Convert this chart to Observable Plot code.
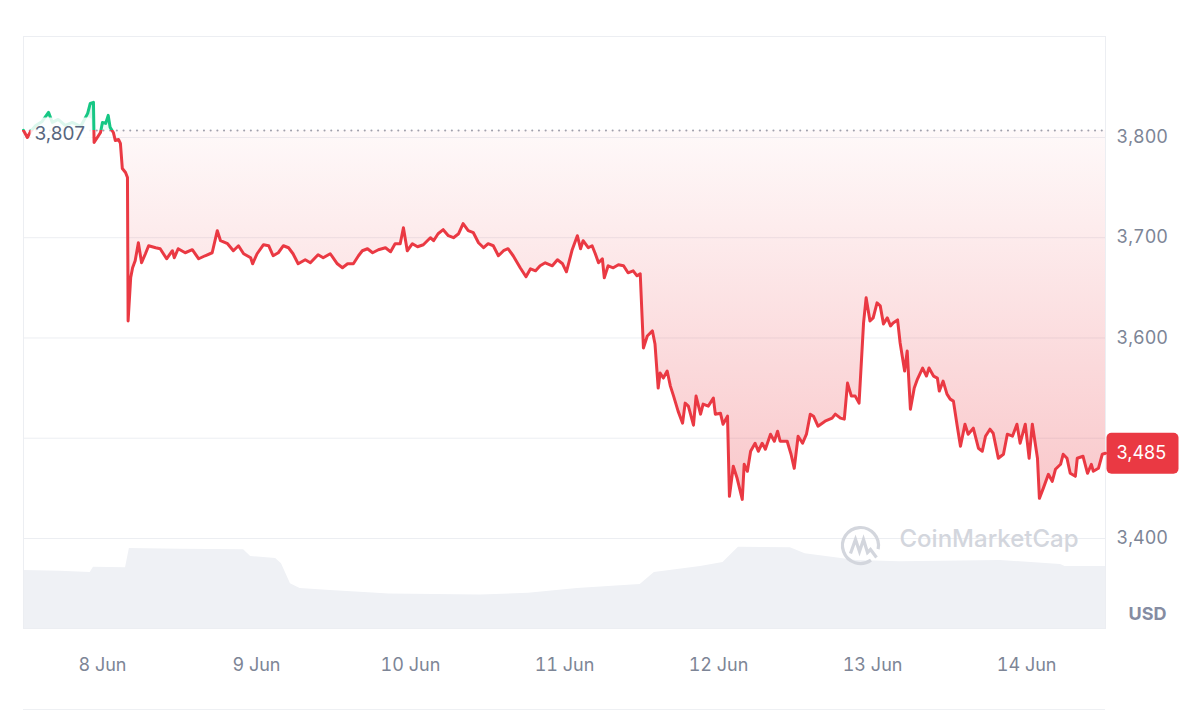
<!DOCTYPE html>
<html><head><meta charset="utf-8">
<script src="https://cdn.jsdelivr.net/npm/d3@7"></script>
<script src="https://cdn.jsdelivr.net/npm/@observablehq/plot@0.6"></script>
<style>
body{margin:0;background:#fff;font-family:Inter,sans-serif;}
#wrap{position:relative;width:1200px;height:711px;}
#wrap svg{position:absolute;left:0;top:0;}
#rule{position:absolute;left:23px;width:1082px;top:709px;height:0;border-top:1px solid #eef0f3;}
</style></head><body><div id="wrap"><div id="rule"></div></div>
<script>
// ETH / USD, 7 Jun 2024 12:00 UTC + hours
const startUTC = Date.UTC(2024, 5, 7, 12);
const priceSeries = [[-0.3,3807],[0.3,3800],[0.8,3806],[1.6,3812],[2.6,3816],[3.6,3825],[4.2,3815],[5.1,3818],[6.2,3812],[7.3,3815],[8.6,3811],[9.7,3824],[10.1,3834],[10.6,3835],[10.7,3795],[11.2,3800],[11.7,3805],[12.0,3815],[12.5,3814],[12.9,3822],[13.2,3810],[13.7,3805],[14.0,3797],[14.5,3798],[14.8,3794],[15.1,3769],[15.6,3765],[15.9,3760],[16.0,3617],[16.4,3660],[16.7,3670],[17.1,3677],[17.6,3695],[18.1,3675],[18.7,3684],[19.2,3692],[20.3,3690],[21.0,3689],[22.0,3679],[22.9,3687],[23.2,3680],[23.8,3689],[24.9,3685],[26.0,3688],[27.0,3679],[28.0,3682],[29.1,3685],[29.9,3707],[30.4,3697],[31.5,3694],[32.4,3687],[33.2,3692],[34.0,3684],[35.1,3680],[35.4,3674],[36.1,3684],[37.1,3693],[37.9,3692],[38.6,3682],[39.4,3685],[40.2,3692],[41.0,3690],[41.7,3684],[42.5,3674],[43.6,3678],[44.4,3675],[45.6,3683],[46.4,3680],[47.5,3684],[48.6,3674],[49.4,3670],[50.2,3674],[51.1,3674],[51.9,3682],[52.5,3687],[53.3,3689],[54.1,3685],[55.0,3688],[56.1,3690],[56.9,3686],[57.6,3694],[58.4,3694],[58.9,3710],[59.5,3687],[60.3,3694],[61.1,3691],[62.0,3693],[63.1,3700],[63.6,3697],[64.3,3704],[65.1,3708],[65.9,3702],[66.7,3700],[67.5,3704],[68.2,3714],[69.0,3707],[69.8,3705],[70.6,3695],[71.4,3690],[72.1,3694],[72.9,3692],[73.7,3682],[74.5,3687],[75.2,3689],[76.0,3682],[77.1,3670],[78.0,3661],[78.7,3669],[79.5,3667],[80.2,3672],[81.0,3675],[82.1,3672],[82.9,3678],[83.7,3674],[84.3,3666],[85.2,3688],[86.0,3702],[86.5,3689],[86.9,3697],[87.7,3690],[88.3,3692],[88.8,3684],[89.3,3675],[89.9,3679],[90.2,3660],[90.8,3672],[91.6,3670],[92.4,3673],[93.2,3672],[93.9,3665],[94.7,3667],[95.3,3662],[95.8,3664],[96.3,3590],[96.9,3602],[97.7,3607],[98.1,3594],[98.6,3550],[98.9,3565],[99.4,3560],[100.0,3567],[100.5,3552],[101.0,3542],[101.7,3527],[102.4,3515],[102.8,3535],[103.3,3532],[104.1,3513],[104.5,3542],[105.2,3524],[105.6,3534],[106.4,3532],[107.2,3540],[107.5,3524],[108.3,3525],[108.7,3514],[109.4,3522],[109.7,3442],[110.3,3472],[110.9,3460],[111.7,3439],[112.0,3474],[112.5,3467],[113.0,3487],[113.7,3495],[114.2,3487],[114.8,3495],[115.3,3489],[116.1,3504],[116.7,3497],[117.2,3507],[117.6,3497],[118.7,3497],[119.3,3484],[119.8,3470],[120.4,3502],[121.1,3495],[121.7,3504],[122.3,3524],[122.8,3522],[123.5,3512],[124.6,3517],[125.7,3520],[126.2,3524],[127.0,3520],[127.6,3519],[128.1,3555],[128.7,3542],[129.3,3542],[129.9,3535],[130.6,3615],[131.0,3640],[131.6,3617],[132.1,3620],[132.7,3635],[133.2,3632],[133.7,3614],[134.3,3620],[134.8,3612],[135.2,3615],[135.9,3618],[136.3,3595],[137.0,3567],[137.4,3587],[137.9,3529],[138.5,3550],[139.0,3559],[139.8,3570],[140.4,3562],[140.8,3570],[141.5,3562],[142.1,3560],[142.4,3547],[143.0,3557],[143.6,3544],[144.1,3539],[144.6,3537],[145.2,3512],[145.7,3492],[146.4,3514],[146.9,3504],[147.7,3510],[148.5,3490],[149.1,3487],[149.6,3502],[150.3,3509],[150.8,3505],[151.6,3480],[152.4,3484],[153.0,3504],[153.8,3502],[154.5,3514],[155.0,3495],[155.8,3514],[156.4,3480],[156.9,3514],[157.7,3480],[158.0,3440],[158.6,3450],[159.4,3464],[160.0,3457],[160.5,3469],[161.3,3474],[161.7,3484],[162.3,3480],[162.8,3465],[163.6,3462],[163.9,3480],[164.8,3482],[165.5,3465],[166.1,3474],[166.4,3467],[167.2,3470],[167.8,3484],[168.3,3485]];
// 24h volume (billions USD, approximate)
const volumeSeries = [[-0.3,14.5],[5.4,14.3],[10.1,14.0],[10.6,15.3],[15.6,15.2],[16.2,20.0],[24.1,19.8],[34.0,19.7],[35.1,18.0],[39.0,17.5],[39.9,16.2],[41.3,11.2],[42.8,10.0],[47.5,9.5],[56.7,8.6],[70.9,8.4],[78.4,8.8],[86.0,10.0],[92.7,10.7],[95.8,11.0],[98.0,14.0],[105.2,15.5],[108.7,16.5],[111.1,20.3],[119.2,20.2],[121.5,18.7],[129.5,17.0],[136.3,16.7],[151.9,17.0],[161.3,16.0],[162.0,15.5],[168.3,15.5]];
const dayTicks = ["2024-06-08","2024-06-09","2024-06-10","2024-06-11","2024-06-12","2024-06-13","2024-06-14"];
const gridTicks = [3400, 3500, 3600, 3700, 3800];
const labelTicks = [3400, 3600, 3700, 3800]; // 3,500 is hidden behind the price badge
const baselinePrice = 3807;
const lastPrice = 3485;
const currencyLabel = "USD";
const watermarkText = "CoinMarketCap";

const RED = "#ea3943", GREEN = "#16c784";
const toDate = h => new Date(startUTC + h * 3600e3);
const prices = priceSeries.map(([h, p]) => ({date: toDate(h), price: p}));
const volumes = volumeSeries.map(([h, v]) => ({date: toDate(h), vol: v}));
const xDomain = d3.extent(prices, d => d.date);
const first = {date: prices[0].date, price: baselinePrice};
const last = {date: prices[prices.length - 1].date, price: lastPrice};
const fmt = d3.format(",");

function roundRect(x0, y0, w, h, r) {
  return {draw(ctx) {
    ctx.moveTo(x0 + r, y0);
    ctx.lineTo(x0 + w - r, y0);
    ctx.arcTo(x0 + w, y0, x0 + w, y0 + r, r);
    ctx.lineTo(x0 + w, y0 + h - r);
    ctx.arcTo(x0 + w, y0 + h, x0 + w - r, y0 + h, r);
    ctx.lineTo(x0 + r, y0 + h);
    ctx.arcTo(x0, y0 + h, x0, y0 + h - r, r);
    ctx.lineTo(x0, y0 + r);
    ctx.arcTo(x0, y0, x0 + r, y0, r);
    ctx.closePath();
  }};
}
const logoSymbol = {draw(ctx) {
  ctx.arc(0, 0, 18, 0.95, 0.2 + 2 * Math.PI, false);
  ctx.moveTo(-10, 8);
  ctx.lineTo(-5, -6);
  ctx.lineTo(-1, 6);
  ctx.lineTo(3, -6);
  ctx.lineTo(7, 7);
  ctx.lineTo(10, 4);
  ctx.lineTo(16, 12);
}};

const common = {width: 1200, height: 711, marginLeft: 23, marginRight: 95, marginTop: 36, marginBottom: 83};

const volChart = Plot.plot({
  ...common,
  style: {background: "transparent"},
  x: {domain: xDomain, axis: null},
  y: {domain: [0, 20], range: [628, 548], axis: null},
  marks: [Plot.areaY(volumes, {x: "date", y: "vol", fill: "#eff1f5"})]
});

const chart = Plot.plot({
  ...common,
  style: {background: "transparent", fontFamily: "Inter, sans-serif", fontSize: "18px", color: "#7d8596"},
  x: {type: "utc", domain: xDomain},
  y: {domain: [3310.2, 3900.7]},
  marks: [
    Plot.frame({stroke: "#eceef2"}),
    Plot.gridY({ticks: gridTicks, stroke: "#eceef2", strokeOpacity: 1}),
    Plot.axisY({ticks: labelTicks, anchor: "right", tickSize: 0, tickPadding: 11, tickFormat: fmt, label: null, fill: "#7d8596"}),
    Plot.axisX({ticks: dayTicks.map(d => new Date(d)), tickFormat: d3.utcFormat("%-d %b"), tickSize: 0, tickPadding: 30, label: null, fill: "#7d8596"}),
    Plot.text([watermarkText], {text: d => d, frameAnchor: "bottom-right", dx: -27, dy: -82, textAnchor: "end", fontSize: 24, fontWeight: 500, fill: "#d3d6dd"}),
    Plot.dot([watermarkText], {frameAnchor: "bottom-right", dx: -245, dy: -83, symbol: logoSymbol, r: 5, fill: "none", stroke: "#d3d6dd", strokeWidth: 3.2}),
    Plot.ruleY([baselinePrice], {stroke: "#9ea4b0", strokeWidth: 2, strokeDasharray: "0.1,6.6", strokeLinecap: "round"}),
    Plot.areaY(prices, {x: "date", y1: baselinePrice, y2: "price", fill: "url(#areaGrad)"}),
    Plot.line(prices, {x: "date", y: "price", stroke: "url(#lineGrad)", strokeWidth: 3}),
    Plot.dot([first], {x: "date", y: "price", symbol: roundRect(7, -13, 61, 27, 3), r: 5, fill: "white", fillOpacity: 0.85, stroke: "none"}),
    Plot.text([first], {x: "date", y: "price", text: d => fmt(d.price), dx: 11, dy: 3, textAnchor: "start", fill: "#58667e", fontSize: 19}),
    Plot.dot([last], {x: "date", y: "price", symbol: roundRect(1, -20.5, 72, 41, 5), r: 5, fill: RED, stroke: "none"}),
    Plot.text([last], {x: "date", y: "price", text: d => fmt(d.price), dx: 11, textAnchor: "start", fill: "white", fontSize: 18}),
    Plot.text([currencyLabel], {text: d => d, frameAnchor: "bottom-right", dx: 42, dy: -9, textAnchor: "middle", fontWeight: 700, fill: "#858ca2", fontSize: 18})
  ]
});

// gradients positioned with the chart's own y scale
const ys = chart.scale("y");
const H = 711;
const yBase = ys.apply(baselinePrice) / H;
const yTop = ys.apply(d3.max(prices, d => d.price)) / H;
const yBot = ys.apply(d3.min(prices, d => d.price)) / H;
const defs = d3.select(chart).insert("defs", ":first-child");
const lg = defs.append("linearGradient").attr("id", "lineGrad").attr("gradientUnits", "userSpaceOnUse")
  .attr("x1", 0).attr("x2", 0).attr("y1", 0).attr("y2", H);
lg.append("stop").attr("offset", yBase).attr("stop-color", GREEN);
lg.append("stop").attr("offset", yBase).attr("stop-color", RED);
const ag = defs.append("linearGradient").attr("id", "areaGrad").attr("gradientUnits", "userSpaceOnUse")
  .attr("x1", 0).attr("x2", 0).attr("y1", 0).attr("y2", H);
[[yTop, GREEN, 0.22], [yBase, GREEN, 0.06], [yBase, RED, 0.03], [yBot, RED, 0.28], [1, RED, 0.28]]
  .forEach(([o, c, a]) => ag.append("stop").attr("offset", o).attr("stop-color", c).attr("stop-opacity", a));

const wrap = document.getElementById("wrap");
wrap.appendChild(volChart);
wrap.appendChild(chart);
</script>
</body></html>
